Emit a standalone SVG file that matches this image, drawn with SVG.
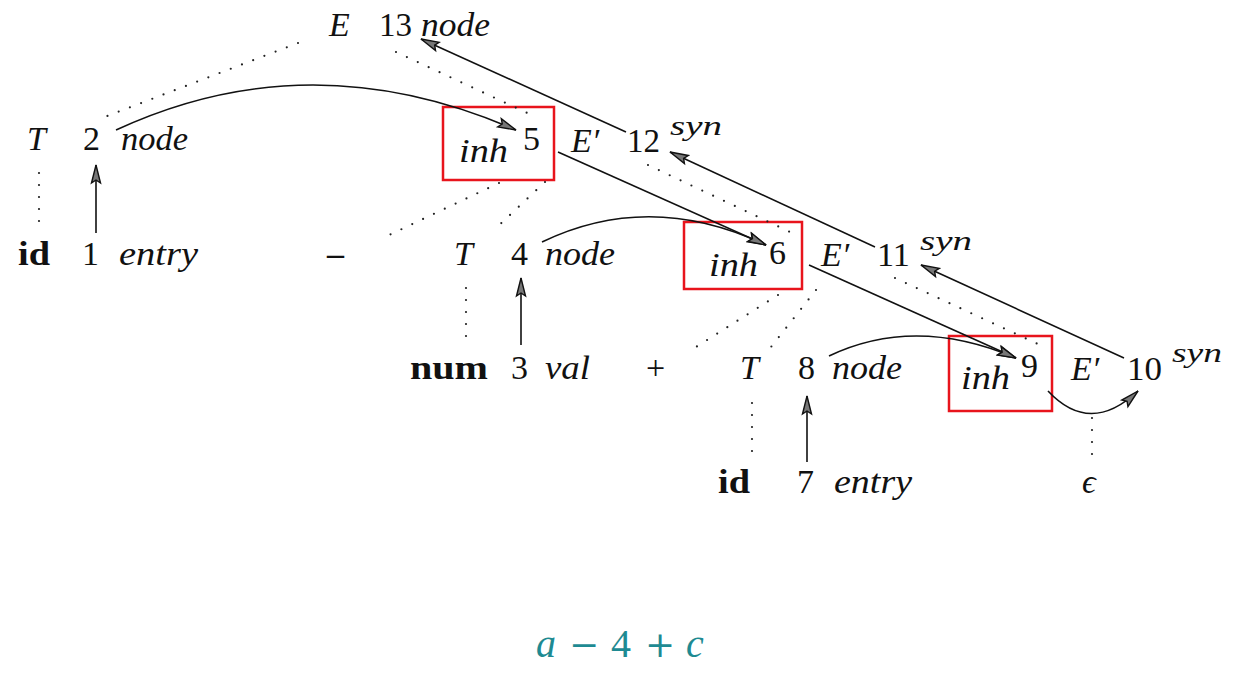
<svg xmlns="http://www.w3.org/2000/svg" width="1250" height="682" viewBox="0 0 1250 682">
<defs>
<style>
text{font-family:"Liberation Serif","DejaVu Serif",serif;font-size:34px;fill:#111}
.i{font-style:italic}
.b{font-weight:bold}
.sup{font-style:italic;font-size:28px}
.box{fill:none;stroke:#e8141c;stroke-width:2.5}
.ln{fill:none;stroke:#111;stroke-width:1.6;marker-end:url(#ah)}
.dt{fill:none;stroke:#222;stroke-width:2.2;stroke-linecap:round;stroke-dasharray:0 12}
.cap{fill:#1e8a92;font-size:40px}
.op{font-family:"DejaVu Serif",serif;font-size:36px}
</style>
<marker id="ah" viewBox="-20 -6 21 12" refX="0" refY="0" markerWidth="21" markerHeight="12" orient="auto" markerUnits="userSpaceOnUse">
<path d="M0,0 L-18,-4.5 L-15,0 L-18,4.5 Z" fill="#777" stroke="#111" stroke-width="1.4" stroke-linejoin="miter"/>
</marker>
</defs>
<rect width="1250" height="682" fill="#fff"/>

<g id="boxes">
<rect id="box5" class="box" x="443" y="107" width="111" height="73"/>
<rect id="box6" class="box" x="684" y="222" width="118" height="67"/>
<rect id="box9" class="box" x="949" y="336" width="103" height="75"/>
</g>

<g id="connectors">
<path class="dt" d="M298,43 L102,118"/>
<path class="dt" d="M396,52 L536,117"/>
<path class="dt" d="M39,173 L39,233"/>
<path class="dt" d="M499,183 L385,237"/>
<path class="dt" d="M545,182 L494,230"/>
<path class="dt" d="M648,165 L790,232"/>
<path class="dt" d="M466,288 L466,345"/>
<path class="dt" d="M778,295 L696,347"/>
<path class="dt" d="M816,290 L771,347"/>
<path class="dt" d="M895,278 L1040,345"/>
<path class="dt" d="M752,403 L752,462"/>
<path class="dt" d="M1092,418 L1092,466"/>

<path class="ln" d="M626,132 L421,39"/>
<path class="ln" d="M875,247 L670,152"/>
<path class="ln" d="M1124,358 L921,265"/>
<path class="ln" d="M558,152 L766,245"/>
<path class="ln" d="M809,265 L1016,358"/>
<path class="ln" d="M116,130 Q310,40 516,130"/>
<path class="ln" d="M542,242 Q650,190 766,245"/>
<path class="ln" d="M829,356 Q915,315 1016,358"/>
<path class="ln" d="M1048,391 Q1090,436 1138,391"/>
<path class="ln" d="M96,233 L96,165"/>
<path class="ln" d="M521,345 L521,278"/>
<path class="ln" d="M807,462 L807,396"/>
</g>

<g id="n13"><text class="i" x="329" y="36">E</text><text x="379" y="36" textLength="33" lengthAdjust="spacingAndGlyphs">13</text><text class="i" x="421" y="36" textLength="69" lengthAdjust="spacingAndGlyphs">node</text></g>

<g id="n2"><text class="i" x="27" y="150">T</text><text x="83" y="150">2</text><text class="i" x="121" y="150" textLength="67" lengthAdjust="spacingAndGlyphs">node</text></g>
<g id="n5"><text class="i" x="459" y="162" textLength="49" lengthAdjust="spacingAndGlyphs">inh</text><text x="523" y="150">5</text></g>
<g id="n12"><text class="i" x="571" y="152">E′</text><text x="627" y="152" textLength="33" lengthAdjust="spacingAndGlyphs">12</text><text class="sup" x="670" y="135" textLength="52" lengthAdjust="spacingAndGlyphs">syn</text></g>

<g id="n1"><text class="b" x="18" y="265" textLength="32" lengthAdjust="spacingAndGlyphs">id</text><text x="82" y="265">1</text><text class="i" x="119" y="265" textLength="79" lengthAdjust="spacingAndGlyphs">entry</text></g>
<g id="minus"><text class="b" x="327" y="265">–</text></g>
<g id="n4"><text class="i" x="454" y="265">T</text><text x="511" y="265">4</text><text class="i" x="545" y="265" textLength="70" lengthAdjust="spacingAndGlyphs">node</text></g>
<g id="n6"><text class="i" x="709" y="276" textLength="49" lengthAdjust="spacingAndGlyphs">inh</text><text x="769" y="264">6</text></g>
<g id="n11"><text class="i" x="821" y="266">E′</text><text x="877" y="266" textLength="33" lengthAdjust="spacingAndGlyphs">11</text><text class="sup" x="920" y="250" textLength="52" lengthAdjust="spacingAndGlyphs">syn</text></g>

<g id="n3"><text class="b" x="410" y="379" textLength="78" lengthAdjust="spacingAndGlyphs">num</text><text x="511" y="379">3</text><text class="i" x="545" y="379" textLength="45" lengthAdjust="spacingAndGlyphs">val</text></g>
<g id="plus"><text x="646" y="379">+</text></g>
<g id="n8"><text class="i" x="740" y="379">T</text><text x="798" y="379">8</text><text class="i" x="832" y="379" textLength="70" lengthAdjust="spacingAndGlyphs">node</text></g>
<g id="n9"><text class="i" x="961" y="389" textLength="49" lengthAdjust="spacingAndGlyphs">inh</text><text x="1021" y="377">9</text></g>
<g id="n10"><text class="i" x="1071" y="380">E′</text><text x="1127" y="380" textLength="35" lengthAdjust="spacingAndGlyphs">10</text><text class="sup" x="1172" y="362" textLength="50" lengthAdjust="spacingAndGlyphs">syn</text></g>

<g id="n7"><text class="b" x="718" y="493" textLength="32" lengthAdjust="spacingAndGlyphs">id</text><text x="797" y="493">7</text><text class="i" x="834" y="493" textLength="78" lengthAdjust="spacingAndGlyphs">entry</text></g>
<g id="eps"><text class="i" x="1082" y="493">ϵ</text></g>

<g id="caption"><text class="cap i" x="536" y="657">a</text><text class="cap op" x="569" y="657">−</text><text class="cap" x="611" y="657">4</text><text class="cap op" x="645" y="657">+</text><text class="cap i" x="686" y="657">c</text></g>
</svg>
